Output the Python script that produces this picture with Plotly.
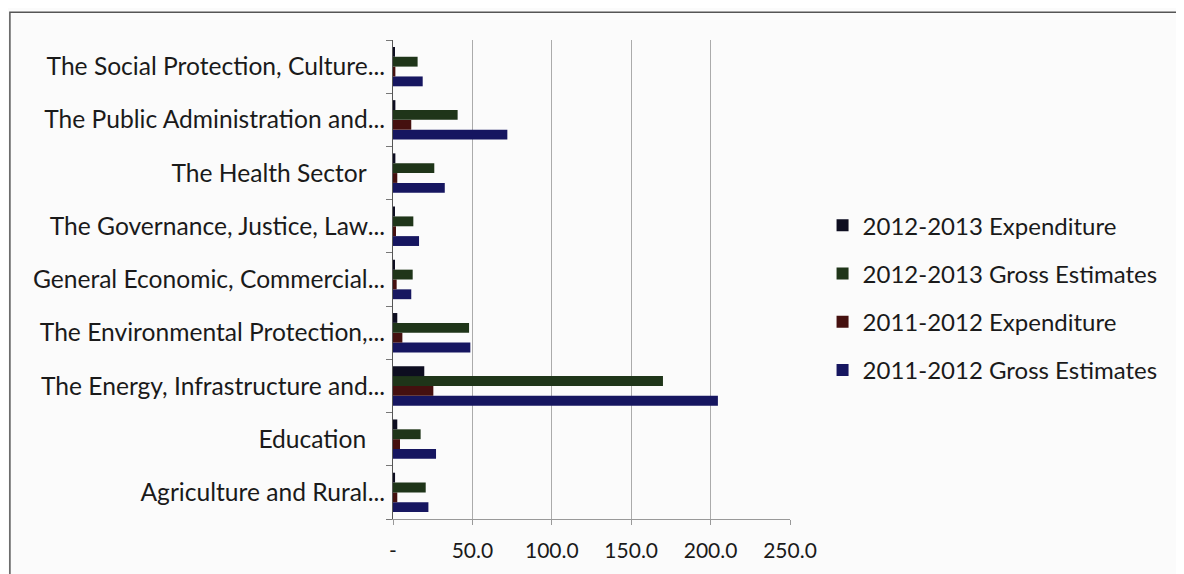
import plotly.graph_objects as go

categories = [
    "Agriculture and Rural...",
    "Education\u00a0\u00a0\u00a0",
    "The Energy, Infrastructure and...",
    "The Environmental Protection,...",
    "General Economic, Commercial...",
    "The Governance, Justice, Law...",
    "The Health Sector\u00a0\u00a0\u00a0",
    "The Public Administration and...",
    "The Social Protection, Culture...",
]

gross_2011_2012 = [22.3, 27.1, 204.6, 48.7, 11.5, 16.4, 32.6, 72.0, 18.7]
exp_2011_2012 = [2.7, 4.4, 25.4, 5.9, 2.3, 1.9, 2.7, 11.5, 1.5]
gross_2012_2013 = [20.6, 17.4, 170.0, 47.9, 12.4, 12.8, 26.0, 40.7, 15.5]
exp_2012_2013 = [1.3, 2.7, 19.7, 2.7, 0.8, 0.8, 1.5, 1.5, 0.8]

series_names = [
    "2011-2012 Gross Estimates",
    "2011-2012 Expenditure",
    "2012-2013 Gross Estimates",
    "2012-2013 Expenditure",
]
series_values = [gross_2011_2012, exp_2011_2012, gross_2012_2013, exp_2012_2013]
series_colors = ["#161660", "#45100f", "#1f3519", "#0d0d20"]
legend_ranks = [4, 3, 2, 1]

tick_vals = [0, 50, 100, 150, 200, 250]
tick_text = ["-", "50.0", "100.0", "150.0", "200.0", "250.0"]

fig = go.Figure()
for name, vals, col, rk in zip(series_names, series_values, series_colors, legend_ranks):
    fig.add_trace(go.Bar(
        y=categories, x=vals, name=name, orientation="h",
        marker=dict(color=col, line=dict(width=0)),
        legendgroup=name, legendrank=rk,
    ))

font_family = "Lato, Carlito, 'Open Sans', sans-serif"

fig.update_layout(
    barmode="group",
    bargap=0.26,
    bargroupgap=0.0,
    width=1176, height=566,
    paper_bgcolor="#fbfbfb",
    plot_bgcolor="#fbfbfb",
    margin=dict(l=385, r=394, t=32, b=55, autoexpand=False),
    font=dict(family=font_family, size=20, color="#1a1a1a"),
    showlegend=True,
    legend=dict(
        x=1.082, y=0.462, xanchor="left", yanchor="middle",
        traceorder="grouped", tracegroupgap=14,
        font=dict(size=24, color="#1a1a1a"),
        bgcolor="rgba(0,0,0,0)",
        itemwidth=30,
    ),
    xaxis=dict(
        range=[0, 250],
        tickvals=tick_vals, ticktext=tick_text,
        showgrid=True, gridcolor="#ababab", gridwidth=1,
        showline=True, linecolor="#999999", linewidth=1,
        ticks="outside", ticklen=5, tickcolor="#999999",
        zeroline=False,
        tickfont=dict(size=21),
        ticklabelstandoff=8,
        fixedrange=True,
    ),
    yaxis=dict(
        categoryorder="array", categoryarray=categories,
        showline=True, linecolor="#555555", linewidth=1,
        ticks="outside", ticklen=6, tickcolor="#777777",
        tickson="boundaries",
        showgrid=False,
        tickfont=dict(size=24.6),
        ticklabelstandoff=2,
    ),
    shapes=[dict(
        type="rect", xref="paper", yref="paper",
        x0=-0.965, x1=2.0, y0=-0.2, y1=1.058,
        line=dict(color="#555555", width=1.5),
        fillcolor="rgba(0,0,0,0)", layer="below",
    )],
)

fig.write_html("out.html")
